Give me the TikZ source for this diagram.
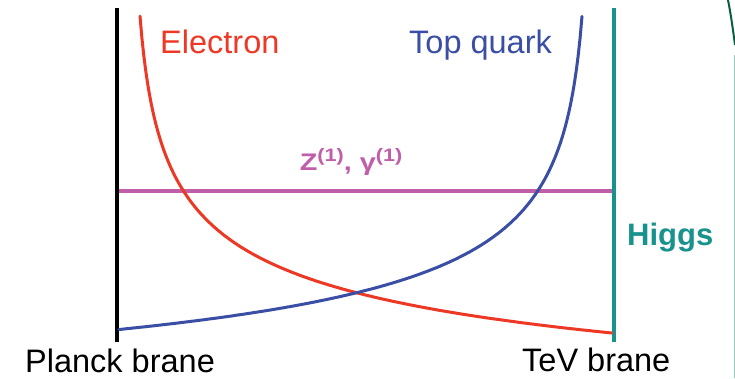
\documentclass[tikz,border=0pt]{standalone}
\usepackage{fontspec}
\setmainfont{Liberation Sans}
\usepackage{tikz}
\usetikzlibrary{positioning}
\usepackage{xcolor}

\definecolor{elred}{RGB}{236,56,36}
\definecolor{topblue}{RGB}{58,78,165}
\definecolor{zpurple}{RGB}{192,94,170}
\definecolor{higgsteal}{RGB}{24,146,140}
\definecolor{edgegreen}{RGB}{12,92,62}
\definecolor{edgeline}{RGB}{150,200,190}

\newcommand{\kkup}{\raisebox{9pt}{\fontsize{18}{20}\selectfont(1)}}

\begin{document}
\begin{tikzpicture}[
    x=1pt, y=-1pt,
    lbl/.style={inner sep=0pt, anchor=base west, font=\fontsize{32.5}{38}\selectfont},
    brane/.style={line width=4.5pt},
    wave/.style={line width=3pt, line cap=round}
]
    \useasboundingbox (0,0) rectangle (735,378);

    % branes
    \coordinate (planckTop) at (117,8);
    \coordinate (planckBot) at (117,342);
    \coordinate (tevTop) at (614,8);
    \coordinate (tevBot) at (614,342);
    \draw[brane, black] (planckTop) -- (planckBot);
    \draw[brane, higgsteal] (tevTop) -- (tevBot);

    % gauge KK modes
    \coordinate (zLeft) at (119,191);
    \coordinate (zRight) at (612,191);
    \draw[line width=3.3pt, zpurple] (zLeft) -- (zRight);

    % profiles
    \draw[wave, elred] plot[domain=140:612, samples=240]
        (\x, {526.8-908*exp(-0.25*ln(\x-130))});
    \draw[wave, topblue] plot[domain=119:582, samples=240]
        (\x, {522.5-900*exp(-0.25*ln(592-\x))});

    % labels
    \node[lbl, text=elred] (electron) at (160,53) {Electron};
    \node[lbl, text=topblue] (top) at (409,53) {Top quark};
    \node[inner sep=0pt, anchor=base, xscale=1.2, text=zpurple, font=\fontsize{24}{28}\bfseries\selectfont]
        (zmode) at (351,170) {Z\kkup, γ\kkup};
    \node[lbl, text=higgsteal, font=\fontsize{31}{36}\bfseries\selectfont] (higgs) at (627,245) {Higgs};
    \node[lbl] (planck) at (25,372) {Planck brane};
    \node[lbl] (tev) at (522,371) {TeV brane};

    % slide edge
    \coordinate (edgeA) at (728,0);
    \coordinate (edgeB) at (735,45);
    \draw[line width=2pt, edgegreen] (edgeA) .. controls (731,15) and (733,30) .. (edgeB);
    \coordinate (lineTop) at (734,55);
    \coordinate (lineBot) at (734,378);
    \draw[line width=1pt, edgeline] (lineTop) -- (lineBot);
\end{tikzpicture}
\end{document}
